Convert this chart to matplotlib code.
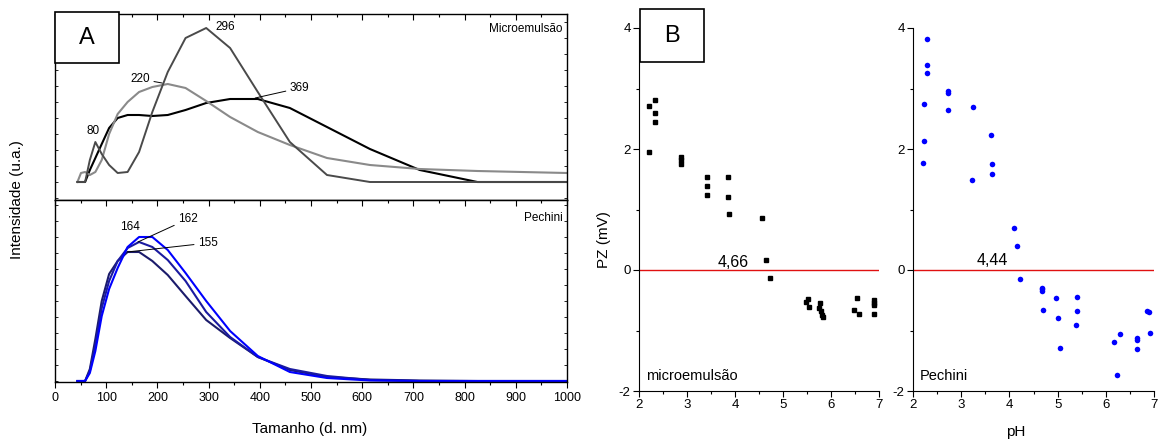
import numpy as np
import matplotlib
matplotlib.use("Agg")
import matplotlib.pyplot as plt
from matplotlib.patches import Rectangle
from matplotlib.ticker import MultipleLocator

plt.rcParams['font.family'] = ['Liberation Sans', 'DejaVu Sans']
plt.rcParams['axes.unicode_minus'] = False

# ---- panel A: size distributions (Malvern bins, nm) ----
bins = [43.8, 50.75, 58.77, 68.06, 78.82, 91.28, 105.7, 122.4, 141.8, 164.2, 190.1,
        220.2, 255.0, 295.3, 342.0, 396.1, 458.7, 531.2, 615.1, 712.4, 825.0, 955.4, 1000]

me_296 = [0, 0, 0, 22, 40, 28, 17, 9, 10, 30, 70, 110, 144, 154, 134, 90, 40, 7, 0, 0, 0, 0, 0]
me_220 = [0, 9, 10, 7, 10, 22, 48, 68, 80, 90, 95, 98, 94, 81, 65, 50, 37, 24, 17, 13, 11, 9.5, 9]
me_369 = [0, 0, 0, 12, 24, 38, 54, 64, 67, 67, 66, 67, 72, 79, 83, 83, 74, 55, 33, 12, 0, 0, 0]

pe_164 = [0, 0, 0, 8, 30, 65, 92, 113, 134, 144, 144, 131, 108, 80, 50, 25, 9, 3, 0.5, 0, 0, 0, 0]
pe_162 = [0, 0, 0, 10, 36, 73, 100, 120, 133, 139, 134, 121, 100, 69, 44, 24, 12, 5, 1, 0, 0, 0, 0]
pe_155 = [0, 0, 0, 12, 42, 80, 107, 120, 129, 129, 120, 106, 85, 61, 43, 24, 11, 4, 1.5, 0.5, 0, 0, 0]

# ---- panel B: zeta potential vs pH ----
ph_me = [2.21, 2.33, 2.33, 2.33, 2.21, 2.87, 2.87, 2.87, 3.42, 3.42, 3.42, 3.85, 3.85, 3.88,
         4.56, 4.65, 4.73, 5.48, 5.52, 5.54, 5.77, 5.75, 5.79, 5.81, 5.83, 6.48, 6.54, 6.58,
         6.89, 6.89, 6.89, 6.89]
pz_me = [2.71, 2.81, 2.60, 2.45, 1.95, 1.87, 1.82, 1.75, 1.54, 1.39, 1.24, 1.54, 1.21, 0.92,
         0.86, 0.17, -0.13, -0.53, -0.48, -0.61, -0.54, -0.63, -0.68, -0.74, -0.78, -0.66,
         -0.46, -0.73, -0.50, -0.54, -0.58, -0.73]

ph_pe = [2.29, 2.29, 2.29, 2.73, 2.73, 2.23, 2.73, 3.24, 3.62, 2.23, 2.21, 3.64, 3.64, 3.22,
         4.10, 4.16, 4.22, 4.68, 4.68, 4.68, 4.70, 4.97, 5.01, 5.05, 5.40, 5.40, 5.38,
         6.18, 6.29, 6.23, 6.65, 6.65, 6.65, 6.85, 6.89, 6.91]
pz_pe = [3.82, 3.39, 3.25, 2.96, 2.93, 2.74, 2.65, 2.70, 2.23, 2.14, 1.77, 1.75, 1.59, 1.49,
         0.70, 0.40, -0.15, -0.29, -0.32, -0.35, -0.66, -0.47, -0.80, -1.29, -0.45, -0.68,
         -0.91, -1.19, -1.06, -1.74, -1.13, -1.15, -1.31, -0.68, -0.70, -1.04]

W, H = 1161, 442


def rect(x0, y0, x1, y1):
    return [x0 / W, 1 - y1 / H, (x1 - x0) / W, (y1 - y0) / H]


fig = plt.figure(figsize=(W / 100, H / 100), dpi=100)

axt = fig.add_axes(rect(55, 14, 567, 200))
axb = fig.add_axes(rect(55, 200, 567, 382))

axt.plot(bins, me_369, color='#000000', lw=1.5)
axt.plot(bins, me_220, color='#8a8a8a', lw=1.5)
axt.plot(bins, me_296, color='#4a4a4a', lw=1.4)
axt.set_ylim(-18, 168)

axb.plot(bins, pe_155, color='#1b1b6b', lw=1.5)
axb.plot(bins, pe_162, color='#1a1aa0', lw=1.5)
axb.plot(bins, pe_164, color='#0000ff', lw=1.5)
axb.set_ylim(-1, 181)

for ax in (axt, axb):
    ax.set_xlim(0, 1000)
    ax.xaxis.set_major_locator(MultipleLocator(100))
    ax.xaxis.set_minor_locator(MultipleLocator(50))
    ax.yaxis.set_major_locator(MultipleLocator(16))
    ax.tick_params(axis='y', which='both', left=True, right=True, direction='in',
                   length=2, width=0.6, labelleft=False)
    ax.tick_params(axis='x', which='major', length=4, width=0.8)
    ax.tick_params(axis='x', which='minor', length=2.5, width=0.8)
    for s in ax.spines.values():
        s.set_linewidth(1.0)

axt.tick_params(axis='x', which='both', top=True, bottom=False, direction='in', labelbottom=False)
axb.tick_params(axis='x', which='both', top=False, bottom=True, direction='out', labelsize=9)

# inward ticks hanging from the divider line
sec = axb.secondary_xaxis('top')
sec.xaxis.set_major_locator(MultipleLocator(100))
sec.xaxis.set_minor_locator(MultipleLocator(50))
sec.tick_params(axis='x', which='major', direction='in', length=4, width=0.8, labeltop=False)
sec.tick_params(axis='x', which='minor', direction='in', length=2.5, width=0.8)

tkw = dict(fontsize=8.5)
axt.text(74, 51, '80', ha='center', va='center', **tkw)
axt.text(332, 155, '296', ha='center', va='center', **tkw)
axt.annotate('220', xy=(209, 99), xytext=(166, 103), ha='center', va='center',
             arrowprops=dict(arrowstyle='-', lw=0.7, color='black', shrinkA=1, shrinkB=0), **tkw)
axt.annotate('369', xy=(391, 84), xytext=(478, 94), ha='center', va='center',
             arrowprops=dict(arrowstyle='-', lw=0.7, color='black', shrinkA=1, shrinkB=0), **tkw)
axt.text(0.992, 0.92, 'Microemulsão', transform=axt.transAxes, ha='right', va='center', fontsize=8.5)

axb.text(146, 154, '164', ha='center', va='center', **tkw)
axb.annotate('162', xy=(162, 139), xytext=(260, 162), ha='center', va='center',
             arrowprops=dict(arrowstyle='-', lw=0.7, color='black', shrinkA=1, shrinkB=0), **tkw)
axb.annotate('155', xy=(141, 129), xytext=(299, 138), ha='center', va='center',
             arrowprops=dict(arrowstyle='-', lw=0.7, color='black', shrinkA=1, shrinkB=0), **tkw)
axb.text(0.992, 0.9, 'Pechini', transform=axb.transAxes, ha='right', va='center', fontsize=8.5)

fig.text(17 / W, 1 - 200 / H, 'Intensidade (u.a.)', rotation=90, ha='center', va='center', fontsize=11)
fig.text(310 / W, 1 - 429 / H, 'Tamanho (d. nm)', ha='center', va='center', fontsize=11)

# ---- panel B axes ----
axl = fig.add_axes(rect(639, 28, 879, 391))
axr = fig.add_axes(rect(913, 28, 1154, 391))

axl.plot(ph_me, pz_me, ls='none', marker='s', ms=3.2, color='black')
axr.plot(ph_pe, pz_pe, ls='none', marker='o', ms=4, color='#0000ff', mec='none')

for ax in (axl, axr):
    ax.set_xlim(2, 7)
    ax.set_ylim(-2, 4)
    ax.axhline(0, color='#e01010', lw=1.0, zorder=0)
    ax.spines['top'].set_visible(False)
    ax.spines['right'].set_visible(False)
    ax.xaxis.set_major_locator(MultipleLocator(1))
    ax.xaxis.set_minor_locator(MultipleLocator(0.5))
    ax.yaxis.set_major_locator(MultipleLocator(2))
    ax.yaxis.set_minor_locator(MultipleLocator(1))
    ax.tick_params(which='major', length=4, width=0.8, labelsize=9.5, pad=2)
    ax.tick_params(which='minor', length=2.5, width=0.8)
    ax.patch.set_alpha(0)

axl.text(3.96, 0.13, '4,66', ha='center', va='center', fontsize=11.5)
axr.text(3.64, 0.15, '4,44', ha='center', va='center', fontsize=11.5)
axl.text(2.15, -1.75, 'microemulsão', ha='left', va='center', fontsize=10.5)
axr.text(2.15, -1.75, 'Pechini', ha='left', va='center', fontsize=10.5)

fig.text(604 / W, 1 - 240 / H, 'PZ (mV)', rotation=90, ha='center', va='center', fontsize=11)
fig.text(1016 / W, 1 - 432 / H, 'pH', ha='center', va='center', fontsize=11)

# letter boxes
for (x0, y0, x1, y1, lab) in [(55, 12, 119, 63, 'A'), (640, 9, 704, 62, 'B')]:
    fig.add_artist(Rectangle((x0 / W, 1 - y1 / H), (x1 - x0) / W, (y1 - y0) / H,
                             transform=fig.transFigure, facecolor='white', edgecolor='black',
                             lw=1.2, zorder=10))
    fig.text((x0 + x1) / 2 / W, 1 - (y0 + y1) / 2 / H, lab, ha='center', va='center',
             fontsize=17, zorder=11)

fig.savefig('out.png', dpi=100)
